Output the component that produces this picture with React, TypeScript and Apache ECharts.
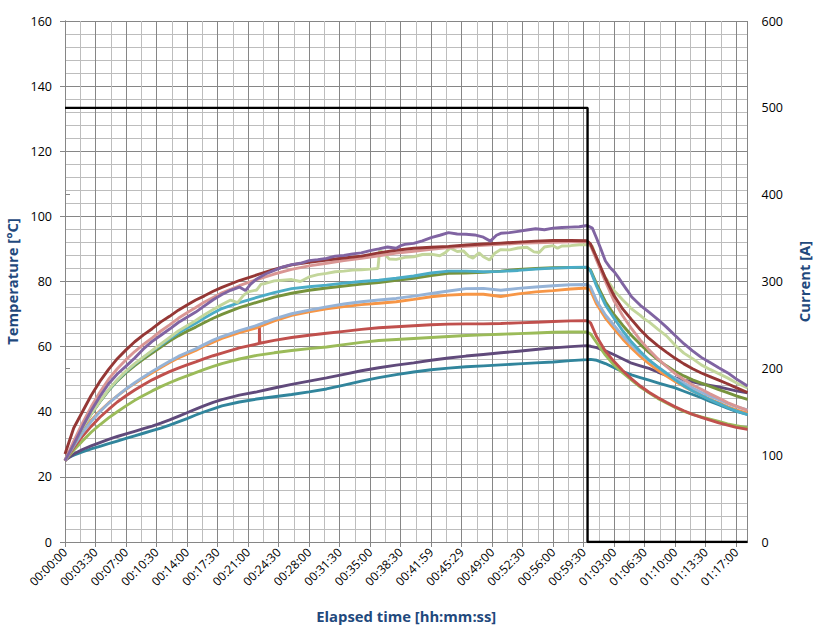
import React, { useEffect, useRef } from "react";
import * as echarts from "echarts";

// ---------- tick labels ----------
const xTickLabels = [
  "00:00:00", "00:03:30", "00:07:00", "00:10:30", "00:14:00", "00:17:30", "00:21:00", "00:24:30",
  "00:28:00", "00:31:30", "00:35:00", "00:38:30", "00:41:59", "00:45:29", "00:49:00", "00:52:30",
  "00:56:00", "00:59:30", "01:03:00", "01:06:30", "01:10:00", "01:13:30", "01:17:00",
];
const xMajorStep = 3.5; // minutes
const xMinorStep = 1.75;
const xMaxMin = 78.3;

// ---------- shared time grid (minutes) ----------
const tBase = [
  0, 1, 2, 3, 4, 5, 6, 7, 8, 9, 10, 11, 12, 13, 14, 15, 16, 17, 18,
  20, 22, 24, 26, 28, 30, 32, 34, 36, 38, 40, 42, 44, 46, 48, 50, 52, 54, 56, 58,
  59.9, 60.3, 61, 62, 63, 64, 65, 66, 67, 68, 69, 70, 71, 72, 73, 74, 75, 76, 77, 78.3,
];

const tealL = [
  25.5, 26.7, 27.7, 28.6, 29.4, 30.2, 31, 31.8, 32.6, 33.4, 34.2, 35, 35.9, 36.9, 37.9, 39, 40, 40.9, 41.8,
  43, 43.9, 44.6, 45.3, 46.1, 47, 48.2, 49.4, 50.5, 51.4, 52.2, 52.9, 53.4, 53.8, 54.1, 54.4, 54.7, 55, 55.3, 55.7,
  56, 56.1, 55.8, 54.8, 53.5, 52.3, 51.3, 50.5, 49.7, 48.9, 48.1, 47.3, 46.3, 45.3, 44.3, 43.2, 42.2, 41.1, 40.1, 39.2,
];
const darkPurpleK = [
  25, 27, 28.4, 29.5, 30.5, 31.5, 32.4, 33.2, 34, 34.8, 35.6, 36.5, 37.5, 38.6, 39.7, 40.8, 41.9, 42.9, 43.7,
  45.1, 46.1, 47.3, 48.4, 49.4, 50.4, 51.5, 52.6, 53.5, 54.3, 55, 55.8, 56.5, 57.1, 57.6, 58.1, 58.6, 59.1, 59.6, 60,
  60.3, 60.1, 59.7, 58.7, 57.5, 56.2, 54.9, 54.1, 53.3, 52.2, 51.2, 50.4, 49.7, 49.2, 48.6, 48.1, 47.6, 47, 46.4, 45.8,
];
const yellowGreenJ = [
  25, 28.2, 31, 33.7, 36, 38.1, 40, 41.8, 43.5, 45, 46.4, 47.7, 48.9, 50, 51, 52, 53, 53.9, 54.8,
  56.2, 57.3, 58.1, 58.8, 59.4, 59.9, 60.6, 61.3, 61.9, 62.2, 62.5, 62.8, 63.1, 63.4, 63.6, 63.8, 64, 64.2, 64.4, 64.5,
  64.5, 63.9, 61.2, 57.4, 54.3, 51.9, 49.7, 47.6, 45.8, 44.1, 42.7, 41.3, 40.1, 39.2, 38.4, 37.7, 37, 36.3, 35.7, 35.1,
];
const orangeH = [
  25, 30, 34, 37.4, 40.2, 42.7, 44.9, 46.9, 48.7, 50.4, 52, 53.6, 55.1, 56.5, 57.7, 58.8, 60.2, 61.4, 62.5,
  64.3, 65.8, 67.9, 69.6, 70.7, 71.6, 72.3, 72.9, 73.3, 73.8, 74.5, 75.3, 75.8, 76.1, 76.1, 75.4, 76.2, 76.8, 77.2, 77.7,
  78, 77.2, 73, 68.8, 65.5, 62.3, 59.5, 57, 54.8, 52.8, 51, 49.3, 47.8, 46.4, 45.1, 43.8, 42.7, 41.6, 40.6, 39.6,
];
const lightBlueG = [
  25, 29.5, 33.5, 37, 40, 42.6, 44.9, 47, 48.9, 50.7, 52.4, 54, 55.5, 57, 58.2, 59.3, 60.7, 62, 63.1,
  64.9, 66.5, 68.5, 70.1, 71.2, 72.2, 73.1, 73.8, 74.3, 74.8, 75.5, 76.3, 77.1, 77.8, 77.9, 77.3, 77.9, 78.3, 78.7, 79,
  79.1, 78.3, 74, 69.7, 66.5, 63.3, 60.5, 57.9, 55.8, 53.8, 51.9, 50.3, 48.8, 47.3, 46, 44.8, 43.7, 42.6, 41.6, 40.6,
];
const oliveF = [
  25, 30, 35, 39.3, 43, 46.5, 49.5, 52, 54.2, 56.2, 58, 59.9, 61.7, 63.3, 64.7, 66, 67.4, 68.7, 69.9,
  72, 73.6, 75.2, 76.4, 77.3, 78, 78.6, 79.2, 79.7, 80.4, 81, 81.8, 82.5, 82.6, 82.8, 83.2, 83.7, 84, 84.2, 84.3,
  84.3, 83.5, 79.2, 73.8, 69.8, 66.5, 63.4, 60.7, 58.2, 56, 54.1, 52.4, 51, 49.8, 48.8, 47.8, 46.8, 45.9, 44.9, 43.8,
];
const cyanE = [
  25, 30, 35, 39.3, 43.2, 46.7, 49.7, 52.3, 54.6, 56.7, 58.6, 60.5, 62.4, 64.2, 65.7, 67.2, 68.8, 70.3, 71.7,
  73.5, 75.1, 76.6, 77.8, 78.4, 78.9, 79.5, 80, 80.4, 81, 81.7, 82.6, 83.2, 83.2, 83, 83.1, 83.4, 83.8, 84.1, 84.3,
  84.4, 83.2, 78.5, 72.8, 68.7, 64.8, 61.4, 58.5, 55.9, 53.8, 51.8, 49.8, 48, 46.4, 45, 43.7, 42.5, 41.3, 40.3, 39.1,
];
const pinkB = [
  25, 31, 36.5, 41.5, 46, 50, 53.2, 56, 58.5, 60.7, 62.7, 64.8, 66.7, 68.7, 70.4, 72, 73.7, 75.1, 76.5,
  78.7, 80.6, 82.3, 83.7, 84.8, 85.6, 86.4, 87.1, 87.9, 88.7, 89.3, 89.9, 90.4, 90.8, 91.1, 91.4, 91.7, 91.9, 92, 92.2,
  92.2, 91, 86.5, 80, 74, 69.4, 65.5, 62, 59, 56.3, 53.9, 51.7, 49.9, 48.2, 46.9, 45.5, 44.2, 42.8, 41.7, 40.4,
];
const darkRedA = [
  27, 35, 40, 45, 49.3, 53, 56.3, 59, 61.5, 63.6, 65.5, 67.6, 69.3, 71.2, 72.8, 74.3, 75.6, 77, 78.2,
  80.3, 82, 83.7, 85.1, 85.9, 86.6, 87.2, 87.8, 88.8, 89.6, 90.2, 90.5, 90.8, 91.2, 91.5, 91.8, 92.1, 92.4, 92.6, 92.6,
  92.5, 91.5, 87.3, 81, 75.6, 71.5, 68.3, 65.2, 62.5, 60.3, 58.3, 56.4, 54.7, 53.2, 51.9, 50.8, 49.7, 48.6, 47.4, 45.9,
];

// ---------- series with their own time stamps [minute, °C] ----------
const redI: [number, number][] = [
  [0, 25], [1, 29], [2, 32.5], [3, 35.5], [4, 38.3], [5, 40.7], [6, 43], [7, 44.9], [8, 46.7], [9, 48.3],
  [10, 49.8], [11, 51.1], [12, 52.3], [13, 53.4], [14, 54.4], [15, 55.3], [16, 56.3], [17, 57.2], [18, 58],
  [20, 59.6], [22, 60.8], [22.3, 61], [22.3, 66.3], [22.35, 61.05], [24, 61.9], [26, 62.8], [28, 63.5],
  [30, 64.1], [32, 64.7], [34, 65.3], [36, 65.8], [38, 66.1], [40, 66.4], [42, 66.7], [44, 66.9], [46, 67],
  [48, 67], [50, 67.1], [52, 67.3], [54, 67.5], [56, 67.7], [58, 67.9], [59.9, 68], [60.3, 67.3], [61, 63],
  [62, 58.6], [63, 55.4], [64, 52.6], [65, 50.1], [66, 47.9], [67, 46], [68, 44.4], [69, 42.9], [70, 41.5],
  [71, 40.3], [72, 39.2], [73, 38.3], [74, 37.4], [75, 36.6], [76, 35.9], [77, 35.2], [78.3, 34.6],
];
const lightGreenD: [number, number][] = [
  [0, 25], [1, 30], [2, 35], [3, 39.3], [4, 43.2], [5, 46.8], [6, 49.8], [7, 52.5], [8, 54.8], [9, 56.8],
  [10, 58.8], [11, 60.8], [12, 62.8], [13, 64.8], [14, 66.4], [15, 68], [16, 69.8], [17, 71.4], [18, 72.9],
  [19, 74.3], [19.8, 73.5], [20.5, 75.8], [21, 76.8], [22, 77.4], [22.5, 79.2], [23, 79.4], [24, 80.2],
  [25, 80.4], [26, 80.6], [27, 80], [28, 81.4], [29, 82.1], [30, 82.5], [31, 83], [32, 83.2], [33, 83.5],
  [34, 83.6], [35, 83.8], [35.9, 84], [36.1, 89.6], [36.6, 88.6], [37.2, 86.9], [38, 86.8], [39, 87.4],
  [40, 87.6], [41, 88.3], [42, 88.4], [43, 87.9], [43.6, 88.8], [44.2, 90.3], [45, 89.2], [45.7, 89.4],
  [46.3, 87.8], [46.8, 87.2], [47.5, 88.8], [48, 87.6], [48.7, 86.6], [49.3, 88.7], [50, 89.8], [51, 89.7],
  [52, 90.3], [53, 90.5], [53.8, 89.1], [54.4, 88.9], [55, 90.6], [56, 91], [56.5, 90.2], [57, 90.9],
  [58, 91], [59, 91.3], [59.9, 91.3], [60.5, 90.8], [61, 86.8], [61.5, 83.8], [62, 81.2], [62.5, 79.3],
  [63, 77.2], [64, 74.3], [65, 71.6], [66, 69.6], [66.5, 68.4], [67, 67.6], [68, 65.4], [69, 63.3],
  [70, 60.4], [71, 58], [72, 56.3], [73, 54.4], [74, 53], [75, 51.7], [76, 50.4], [77, 48.9], [78.3, 47.3],
];
const purpleC: [number, number][] = [
  [0, 25], [1, 30], [2, 35.3], [3, 40.3], [4, 44.7], [5, 48.6], [6, 51.6], [7, 54], [8, 56.5], [9, 59.3],
  [10, 61.6], [11, 63.5], [12, 65.4], [13, 67.4], [14, 69], [15, 70.6], [16, 72.5], [17, 74.4], [18, 76],
  [19, 77.3], [20, 78.3], [20.7, 77.2], [21.3, 79.2], [22, 80.8], [23, 82.3], [24, 83.4], [25, 84.5],
  [26, 85.2], [27, 85.6], [28, 86.4], [29, 86.7], [30, 87.1], [31, 87.8], [32, 88], [33, 88.5], [34, 88.8],
  [35, 89.5], [36, 90], [37, 90.6], [38, 90.2], [38.5, 91], [39, 91.4], [40, 91.7], [41, 92.5], [42, 93.5],
  [43, 94.2], [44, 95], [45, 94.6], [46, 94.5], [47, 94.3], [48, 93.6], [48.8, 92.4], [49.5, 94.2],
  [50, 94.8], [51, 95], [52, 95.4], [53, 95.8], [54, 96.2], [55, 95.9], [56, 96.4], [57, 96.6], [58, 96.7],
  [59, 96.8], [59.9, 97.2], [60.5, 96.4], [61, 93.2], [61.5, 89.8], [62, 86.3], [62.5, 84.4], [63, 83],
  [63.5, 81.2], [64, 79.2], [64.5, 77.3], [65, 75.3], [66, 72.7], [67, 70.6], [68, 68.4], [69, 66],
  [70, 63.4], [71, 60.9], [72, 58.7], [73, 56.7], [74, 55.1], [75, 53.5], [76, 52], [77, 50.1], [78.3, 47.9],
];

// ---------- current [A] ----------
const currentT = [0, 59.95, 59.95, 78.3];
const currentA = [500, 500, 0, 0];

const FONT = "'Open Sans', 'DejaVu Sans', sans-serif";
const MAJOR = "#868686";
const MINOR = "#bdbdbd";
const TITLE = "#1F497D";

function onBase(vals: number[]) {
  return tBase.map((t, i) => [t, vals[i]]);
}

export default function App() {
  const ref = useRef<HTMLDivElement>(null);
  useEffect(() => {
    if (!ref.current) return;
    const chart = echarts.init(ref.current, null, { renderer: "svg" });
    const line = (name: string, color: string, data: any[], yAxisIndex = 0, width = 2.9) => ({
      name,
      type: "line",
      xAxisIndex: 1,
      yAxisIndex,
      data,
      symbol: "none",
      smooth: false,
      lineStyle: { color, width },
      itemStyle: { color },
      emphasis: { disabled: true },
    });
    const xLabel = (v: number) => {
      const k = v / xMajorStep;
      const r = Math.round(k);
      if (Math.abs(k - r) > 0.01) return "";
      return xTickLabels[r] ?? "";
    };
    const titleStyle = { color: TITLE, fontFamily: FONT, fontWeight: "bold", fontSize: 14.8 };
    chart.setOption({
      animation: false,
      backgroundColor: "#ffffff",
      grid: { left: 65, right: 73.5, top: 21, bottom: 93, containLabel: false, outerBoundsMode: "none" },
      xAxis: [
        {
          type: "value",
          min: 0,
          max: xMaxMin,
          interval: xMinorStep,
          position: "bottom",
          axisLine: { show: false },
          axisTick: { show: false },
          axisLabel: { show: false },
          splitLine: { show: true, lineStyle: { color: MINOR, width: 1 } },
        },
        {
          type: "value",
          min: 0,
          max: xMaxMin,
          interval: xMajorStep,
          position: "bottom",
          name: "Elapsed time [hh:mm:ss]",
          nameLocation: "middle",
          nameGap: 66,
          nameTextStyle: titleStyle,
          axisLine: { show: true, lineStyle: { color: MAJOR, width: 1 } },
          axisTick: { show: true, length: 5, lineStyle: { color: MAJOR } },
          axisLabel: {
            rotate: 45,
            margin: 8,
            color: "#000",
            fontFamily: FONT,
            fontSize: 12,
            showMaxLabel: false,
            formatter: xLabel,
          },
          splitLine: { show: true, lineStyle: { color: MAJOR, width: 1 } },
        },
      ],
      yAxis: [
        {
          type: "value",
          min: 0,
          max: 160,
          interval: 20,
          position: "left",
          name: "Temperature [°C]",
          nameLocation: "middle",
          nameGap: 40,
          nameRotate: 90,
          nameTextStyle: titleStyle,
          axisLine: { show: true, lineStyle: { color: MAJOR, width: 1 } },
          axisTick: { show: true, length: 5, lineStyle: { color: MAJOR } },
          axisLabel: { color: "#000", fontFamily: FONT, fontSize: 12.5, margin: 13 },
          splitLine: { show: true, lineStyle: { color: MAJOR, width: 1 } },
          minorTick: { show: false, splitNumber: 5 },
          minorSplitLine: { show: true, lineStyle: { color: MINOR, width: 1 } },
        },
        {
          type: "value",
          min: 0,
          max: 600,
          interval: 100,
          position: "right",
          name: "Current [A]",
          nameLocation: "middle",
          nameGap: 49,
          nameRotate: 90,
          nameTextStyle: titleStyle,
          axisLine: { show: true, lineStyle: { color: MAJOR, width: 1 } },
          axisTick: { show: true, length: 5, lineStyle: { color: MAJOR } },
          axisLabel: { color: "#000", fontFamily: FONT, fontSize: 12.5, margin: 14 },
          splitLine: { show: false },
        },
      ],
      series: [
        line("Teal", "#31859C", onBase(tealL)),
        line("Dark purple", "#604A7B", onBase(darkPurpleK)),
        line("Yellow green", "#9BBB59", onBase(yellowGreenJ)),
        line("Red", "#C0504D", redI),
        line("Orange", "#F79646", onBase(orangeH)),
        line("Light blue", "#95B3D7", onBase(lightBlueG)),
        line("Olive", "#77933C", onBase(oliveF)),
        line("Cyan", "#4BACC6", onBase(cyanE)),
        line("Light green", "#C3D69B", lightGreenD),
        line("Pink", "#D99694", onBase(pinkB)),
        line("Dark red", "#953735", onBase(darkRedA)),
        line("Purple", "#8064A2", purpleC),
        line("Current", "#000000", currentT.map((t, i) => [t, currentA[i]]), 1, 2.4),
      ],
    });
    return () => chart.dispose();
  }, []);
  return (
    <div
      ref={ref}
      style={{ position: "fixed", left: 0, top: 0, width: 821, height: 635, background: "#fff" }}
    />
  );
}
